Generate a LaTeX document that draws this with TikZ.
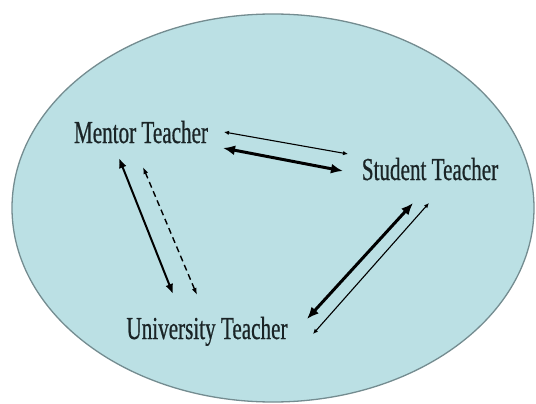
\documentclass[tikz,border=0pt]{standalone}
\usepackage{fontspec}
\newfontfamily\labelfont[FakeStretch=0.66,FakeBold=0.6]{Liberation Serif}
\usetikzlibrary{arrows.meta,positioning}
\definecolor{poolfill}{HTML}{BBE0E4}
\definecolor{poolline}{HTML}{748C90}
\definecolor{inktext}{HTML}{1A2426}
\tikzset{
  actor/.style={font=\labelfont\fontsize{32}{32}\selectfont, text=inktext, inner sep=0pt, anchor=base},
  boldlink/.style={line width=3pt, arrows={Latex[length=12pt,width=10pt]-Latex[length=12pt,width=10pt]}},
  midlink/.style={line width=2pt, arrows={Latex[length=10pt,width=8pt]-Latex[length=10pt,width=8pt]}},
  finelink/.style={line width=1.1pt, arrows={Latex[length=5pt,width=4.5pt]-Latex[length=5pt,width=4.5pt]}},
  dashlink/.style={line width=1.4pt, dash pattern=on 6pt off 4pt, arrows={Latex[length=7pt,width=5pt]-Latex[length=7pt,width=5pt]}}
}
\begin{document}
\begin{tikzpicture}[x=1pt,y=-1pt]
\useasboundingbox (0,0) rectangle (536,404);
\draw[fill=poolfill, draw=poolline, line width=1.3pt] (273,208) ellipse [x radius=261, y radius=194];

\node[actor] (mentor) at (141,143) {Mentor Teacher};
\node[actor] (student) at (430,180) {Student Teacher};
\node[actor] (university) at (207,339) {University Teacher};

\coordinate (mt1) at (224,132); \coordinate (st1) at (348,154);
\coordinate (mt2) at (223,148); \coordinate (st2) at (343,171);
\coordinate (mu1) at (119,158); \coordinate (um1) at (173,294);
\coordinate (mu2) at (143,167); \coordinate (um2) at (197,295);
\coordinate (su1) at (413,203); \coordinate (us1) at (307,319);
\coordinate (su2) at (429,203); \coordinate (us2) at (313,334);

\draw[finelink] (mt1) -- (st1);
\draw[boldlink] (mt2) -- (st2);
\draw[midlink] (mu1) -- (um1);
\draw[dashlink] (mu2) -- (um2);
\draw[boldlink] (su1) -- (us1);
\draw[finelink] (su2) -- (us2);
\end{tikzpicture}
\end{document}
